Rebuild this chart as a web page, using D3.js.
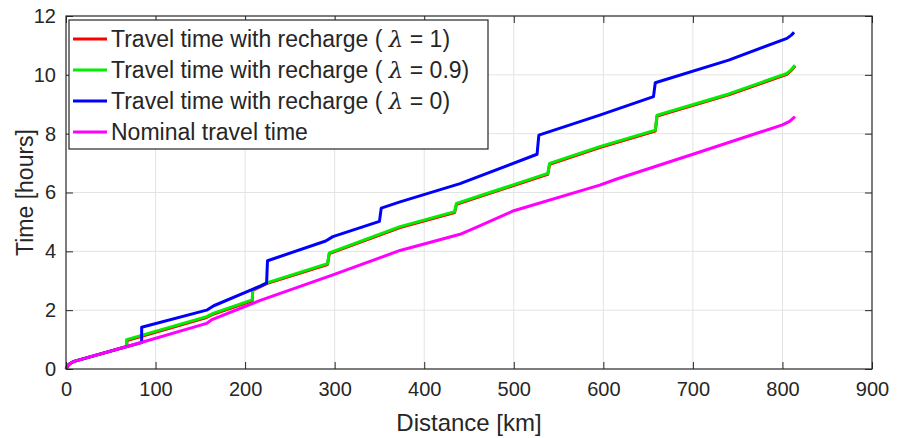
<!DOCTYPE html>
<html>
<head>
<meta charset="utf-8">
<script src="https://cdn.jsdelivr.net/npm/d3@7"></script>
<style>
  body { margin: 0; background: #fff; }
  svg { font-family: "Liberation Sans", Arial, sans-serif; }
</style>
</head>
<body>
<svg id="chart" width="901" height="438"></svg>
<script>
// Travel time along the route, [distance km, time h]
var recharge1 = [[0,0],[3,0.15],[8,0.25],[68,0.77],[68,0.97],[157,1.75],[165,1.87],[208,2.32],[208.5,2.67],[224,2.9],[292,3.55],[294,3.92],[373,4.81],[434,5.32],[436,5.6],[538,6.62],[540,6.96],[596,7.53],[658,8.09],[660,8.6],[740,9.32],[805,10.02],[810,10.15],[814,10.3]];
var recharge09 = [[0,0],[3,0.15],[8,0.25],[67.7,0.77],[67.7,1.0],[157,1.78],[165,1.9],[208,2.35],[208.5,2.7],[224,2.93],[292,3.58],[294,3.95],[373,4.84],[434,5.35],[436,5.63],[538,6.65],[540,6.99],[596,7.56],[658,8.12],[660,8.63],[740,9.35],[805,10.05],[810,10.18],[814,10.33]];
var recharge0 = [[0,0],[3,0.15],[8,0.25],[84.5,0.9],[84.5,1.42],[157,2.0],[165,2.15],[217,2.82],[224,2.92],[225,3.68],[290,4.35],[298,4.5],[350,5.02],[352,5.47],[373,5.68],[440,6.3],[526,7.3],[528,7.95],[596,8.63],[656,9.26],[658,9.73],[740,10.5],[805,11.24],[810,11.35],[813,11.45]];
var nominal = [[0,0],[3,0.15],[8,0.25],[84,0.9],[157,1.55],[163,1.68],[217,2.33],[298,3.2],[373,4.03],[440,4.58],[460,4.84],[500,5.38],[596,6.25],[615,6.46],[700,7.3],[800,8.3],[808,8.42],[814,8.58]];

var xTicks = [0, 100, 200, 300, 400, 500, 600, 700, 800, 900];
var yTicks = [0, 2, 4, 6, 8, 10, 12];

var series = [
  { label: "1", values: recharge1, color: "#ff0000" },
  { label: "0.9", values: recharge09, color: "#00ee00" },
  { label: "0", values: recharge0, color: "#0000ff" },
  { label: null, values: nominal, color: "#ff00ff" }
];

var svg = d3.select("#chart");
var plotL = 66, plotR = 872, plotT = 16, plotB = 369;

var x = d3.scaleLinear().domain([0, 900]).range([plotL, plotR]);
var y = d3.scaleLinear().domain([0, 12]).range([plotB, plotT]);

var axisColor = "#262626";

// grid
svg.append("g").selectAll("line").data(xTicks.slice(1, -1)).enter().append("line")
  .attr("x1", function (d) { return x(d); }).attr("x2", function (d) { return x(d); })
  .attr("y1", plotT).attr("y2", plotB)
  .attr("stroke", "#e3e3e3").attr("stroke-width", 1);
svg.append("g").selectAll("line").data(yTicks.slice(1, -1)).enter().append("line")
  .attr("y1", function (d) { return y(d); }).attr("y2", function (d) { return y(d); })
  .attr("x1", plotL).attr("x2", plotR)
  .attr("stroke", "#e3e3e3").attr("stroke-width", 1);

// lines
var line = d3.line().x(function (d) { return x(d[0]); }).y(function (d) { return y(d[1]); });
svg.append("g").selectAll("path").data(series).enter().append("path")
  .attr("d", function (d) { return line(d.values); })
  .attr("fill", "none")
  .attr("stroke", function (d) { return d.color; })
  .attr("stroke-width", 3)
  .attr("stroke-linejoin", "round");

// axes, ticks inside, box on all sides
var tickLen = 7;
svg.append("g").attr("transform", "translate(0," + plotB + ")")
  .call(d3.axisBottom(x).tickValues(xTicks).tickSize(-tickLen).tickPadding(13).tickFormat(d3.format("d")))
  .call(function (g) { g.select(".domain").remove(); });
svg.append("g").attr("transform", "translate(0," + plotT + ")")
  .call(d3.axisTop(x).tickValues(xTicks).tickSize(-tickLen).tickFormat(""))
  .call(function (g) { g.select(".domain").remove(); });
svg.append("g").attr("transform", "translate(" + plotL + ",0)")
  .call(d3.axisLeft(y).tickValues(yTicks).tickSize(-tickLen).tickPadding(10))
  .call(function (g) { g.select(".domain").remove(); });
svg.append("g").attr("transform", "translate(" + plotR + ",0)")
  .call(d3.axisRight(y).tickValues(yTicks).tickSize(-tickLen).tickFormat(""))
  .call(function (g) { g.select(".domain").remove(); });

svg.selectAll(".tick line").attr("stroke", axisColor);
svg.selectAll(".tick text").attr("fill", axisColor).style("font-size", "20px")
  .style("font-family", "'Liberation Sans', Arial, sans-serif");

svg.append("rect")
  .attr("x", plotL).attr("y", plotT)
  .attr("width", plotR - plotL).attr("height", plotB - plotT)
  .attr("fill", "none").attr("stroke", axisColor).attr("stroke-width", 1.2);

// axis labels
svg.append("text")
  .attr("x", (plotL + plotR) / 2).attr("y", 431)
  .attr("text-anchor", "middle").attr("fill", axisColor)
  .style("font-size", "24px").text("Distance [km]");
svg.append("text")
  .attr("transform", "translate(33," + (plotT + plotB) / 2 + ") rotate(-90)")
  .attr("text-anchor", "middle").attr("fill", axisColor)
  .style("font-size", "23px").text("Time [hours]");

// legend
var legend = svg.append("g");
legend.append("rect")
  .attr("x", 69).attr("y", 20).attr("width", 419).attr("height", 129)
  .attr("fill", "#fff").attr("stroke", axisColor).attr("stroke-width", 1.2);

var rows = legend.selectAll("g.row").data(series).enter().append("g")
  .attr("class", "row")
  .attr("transform", function (d, i) { return "translate(0," + (39 + i * 31) + ")"; });
rows.append("line")
  .attr("x1", 73).attr("x2", 107)
  .attr("stroke", function (d) { return d.color; })
  .attr("stroke-width", 3);
var labels = rows.append("text")
  .attr("x", 111).attr("y", 8)
  .attr("fill", axisColor).style("font-size", "23px");
labels.each(function (d) {
  var t = d3.select(this);
  if (d.label === null) {
    t.text("Nominal travel time");
  } else {
    t.append("tspan").text("Travel time with recharge ( ");
    t.append("tspan").style("font-family", "'DejaVu Serif', 'Liberation Serif', serif")
      .style("font-style", "italic").text("λ");
    t.append("tspan").text(" = " + d.label + ")");
  }
});
</script>
</body>
</html>
